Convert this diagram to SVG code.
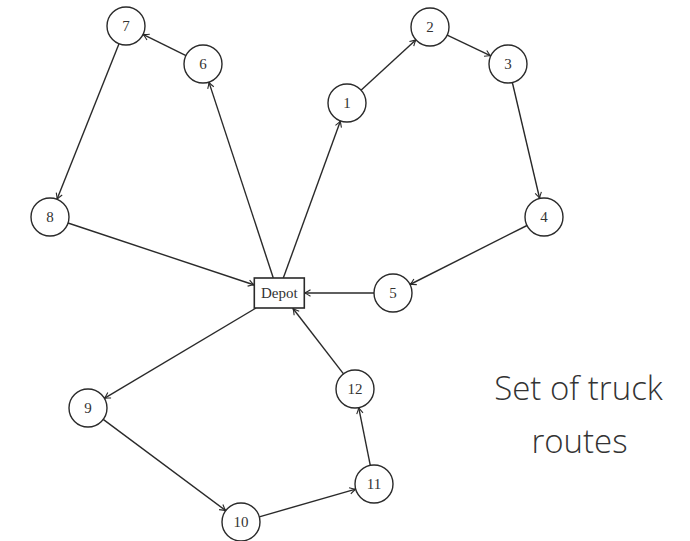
<svg xmlns="http://www.w3.org/2000/svg" width="690" height="541" viewBox="0 0 690 541">
<style>
.n circle{fill:#fff;stroke:#2a2a2a;stroke-width:1.4}
.n rect{fill:#fff;stroke:#2a2a2a;stroke-width:1.6}
.n text{font-family:"Liberation Serif","DejaVu Serif",serif;font-size:15px;fill:#333;text-anchor:middle;dominant-baseline:central}
#edges line{stroke:#2a2a2a;stroke-width:1.4;marker-end:url(#ah)}
.cap{font-family:"Open Sans","Liberation Sans",sans-serif;font-weight:300;font-size:33px;fill:#333;text-anchor:middle}
</style>
<defs>
<marker id="ah" markerUnits="userSpaceOnUse" markerWidth="12" markerHeight="10" viewBox="-8 -5 10 10" refX="0" refY="0" orient="auto">
<path d="M-6,-3.2 Q-2,-0.6 0,0 Q-2,0.6 -6,3.2" fill="none" stroke="#2a2a2a" stroke-width="1.1"/>
</marker>
</defs>
<rect width="690" height="541" fill="#fff"/>
<g id="edges">
<line x1="283.3" y1="278" x2="340.5" y2="120.8"/>
<line x1="361" y1="90.2" x2="416" y2="39.8"/>
<line x1="447.2" y1="35.1" x2="490.8" y2="55.9"/>
<line x1="512.35" y1="82.5" x2="539.65" y2="198.5"/>
<line x1="527" y1="225.5" x2="410" y2="284.5"/>
<line x1="374" y1="293" x2="304.5" y2="293"/>
<line x1="273.3" y1="278" x2="208.9" y2="82.1"/>
<line x1="186" y1="55.6" x2="143" y2="34.4"/>
<line x1="119" y1="43.65" x2="57" y2="199.35"/>
<line x1="68" y1="223" x2="254.3" y2="285"/>
<line x1="256" y1="308" x2="104.3" y2="398.3"/>
<line x1="103.2" y1="419.35" x2="225.8" y2="510.65"/>
<line x1="259.3" y1="516.8" x2="355.7" y2="489.2"/>
<line x1="370.3" y1="465.4" x2="358.7" y2="407.6"/>
<line x1="343.5" y1="373.9" x2="293" y2="308.5"/>
</g>
<g id="depot" class="n"><rect x="254.3" y="278" width="50" height="30"/><text x="279.3" y="293">Depot</text></g>
<g id="n1" class="n"><circle cx="347" cy="103" r="19"/><text x="347" y="103">1</text></g>
<g id="n2" class="n"><circle cx="430" cy="27" r="19"/><text x="430" y="27">2</text></g>
<g id="n3" class="n"><circle cx="508" cy="64" r="19"/><text x="508" y="64">3</text></g>
<g id="n4" class="n"><circle cx="544" cy="217" r="19"/><text x="544" y="217">4</text></g>
<g id="n5" class="n"><circle cx="393" cy="293" r="19"/><text x="393" y="293">5</text></g>
<g id="n6" class="n"><circle cx="203" cy="64" r="19"/><text x="203" y="64">6</text></g>
<g id="n7" class="n"><circle cx="126" cy="26" r="19"/><text x="126" y="26">7</text></g>
<g id="n8" class="n"><circle cx="50" cy="217" r="19"/><text x="50" y="217">8</text></g>
<g id="n9" class="n"><circle cx="88" cy="408" r="19"/><text x="88" y="408">9</text></g>
<g id="n10" class="n"><circle cx="241" cy="522" r="19"/><text x="241" y="522">10</text></g>
<g id="n11" class="n"><circle cx="374" cy="484" r="19"/><text x="374" y="484">11</text></g>
<g id="n12" class="n"><circle cx="355" cy="389" r="19"/><text x="355" y="389">12</text></g>
<text class="cap" x="578.5" y="400">Set of truck</text>
<text class="cap" x="579.5" y="453">routes</text>
</svg>
